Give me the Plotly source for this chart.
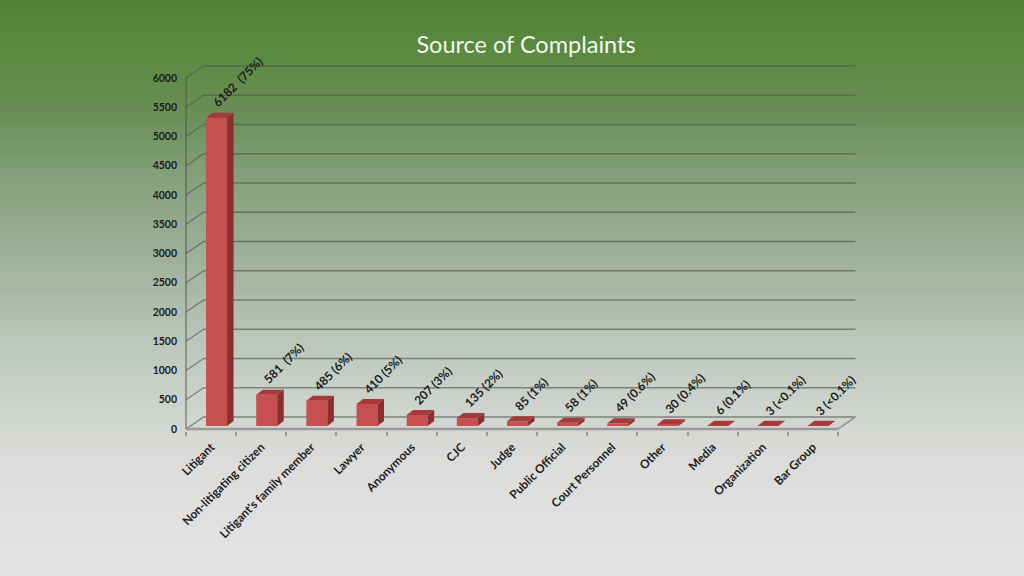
"""
Source of Complaints: bar chart with a drawn 3D look
"""

import plotly.graph_objects as go

# Datos
categories = ['Litigant', 'Non-litigating citizen', "Litigant's family member", 'Lawyer',
              'Anonymous', 'CJC', 'Judge', 'Public Official', 'Court Personnel', 'Other',
              'Media', 'Organization', 'Bar Group']
bar_heights = [5270, 535, 430, 378, 190, 135, 80, 55, 45, 28, 6, 3, 3]
point_labels = ['6182  (75%)', '581  (7%)', '485 (6%)', '410 (5%)', '207 (3%)', '135 (2%)',
                '85 (1%)', '58 (1%)', '49 (0.6%)', '30 (0.4%)', '6 (0.1%)', '3 (<0.1%)',
                '3 (<0.1%)']
y_ticks = list(range(0, 6001, 500))

# Fondo de la diapositiva (posicion desde abajo, color)
bg_stops = [
    [0.0, '#e5e5e5'],
    [0.1, '#e0e0e0'],
    [0.2, '#dcdcda'],
    [0.3, '#cdd3cc'],
    [0.4, '#bdc8bd'],
    [0.5, '#a9b8a6'],
    [0.6, '#96ab90'],
    [0.7, '#83a07a'],
    [0.8, '#6a8f58'],
    [0.9, '#5c8a42'],
    [1.0, '#518335'],
]

W, H = 1024, 576
X_PX = 50.15    # pixeles por categoria
Y_PX = 0.0585   # pixeles por unidad
WALL_DX = 17.5 / X_PX
WALL_DY = 12 / Y_PX
BAR_WIDTH = 21 / X_PX
BAR_SHIFT = 5.5 / X_PX
BAR_BASE = 3 / Y_PX
BAR_DX = 6.5 / X_PX
BAR_DY = 5 / Y_PX
GRID = 'rgba(80,88,78,0.65)'
FONT = 'Lato'

positions = list(range(len(categories)))
bar_x = [p + BAR_SHIFT for p in positions]
bar_tops = [BAR_BASE + h for h in bar_heights]

fig = go.Figure()

# Fondo a pagina completa
fig.add_trace(go.Heatmap(
    x=[0, 1], y=[0, 1], z=[[0, 0], [1, 1]],
    colorscale=bg_stops, zmin=0, zmax=1, zsmooth='best',
    showscale=False, hoverinfo='skip',
    xaxis='x', yaxis='y'
))

# Cara frontal
fig.add_trace(go.Bar(
    x=bar_x, y=bar_heights, base=BAR_BASE, width=BAR_WIDTH,
    marker=dict(color='#c64f50', line=dict(width=0)),
    showlegend=False, xaxis='x2', yaxis='y2'
))

# Caras lateral y superior
for x, top in zip(bar_x, bar_tops):
    right = x + BAR_WIDTH / 2
    left = x - BAR_WIDTH / 2
    fig.add_trace(go.Scatter(
        x=[right, right + BAR_DX, right + BAR_DX, right, right],
        y=[BAR_BASE, BAR_BASE + BAR_DY, top + BAR_DY, top, BAR_BASE],
        mode='lines', fill='toself', fillcolor='#8a2f30', line=dict(width=0),
        showlegend=False, hoverinfo='skip', xaxis='x2', yaxis='y2'
    ))
    fig.add_trace(go.Scatter(
        x=[left, left + BAR_DX, right + BAR_DX, right, left],
        y=[top, top + BAR_DY, top + BAR_DY, top, top],
        mode='lines', fill='toself', fillcolor='#a53a3a', line=dict(width=0),
        showlegend=False, hoverinfo='skip', xaxis='x2', yaxis='y2'
    ))

# Paredes y piso
x_left = positions[0] - 0.5
x_right = positions[-1] + 0.5
shapes = []
for v in y_ticks:
    shapes.append(dict(type='line', xref='x2', yref='y2', layer='below',
                       x0=x_left + WALL_DX, x1=x_right + WALL_DX,
                       y0=v + WALL_DY, y1=v + WALL_DY,
                       line=dict(color=GRID, width=1.5)))
    shapes.append(dict(type='line', xref='x2', yref='y2', layer='below',
                       x0=x_left, x1=x_left + WALL_DX, y0=v, y1=v + WALL_DY,
                       line=dict(color=GRID, width=1.3)))
shapes.append(dict(type='line', xref='x2', yref='y2', layer='below',
                   x0=x_left, x1=x_left, y0=0, y1=y_ticks[-1],
                   line=dict(color=GRID, width=1.5)))
shapes.append(dict(type='line', xref='x2', yref='y2', layer='below',
                   x0=x_left, x1=x_right, y0=0, y1=0,
                   line=dict(color='#9a9a9a', width=2.4)))
shapes.append(dict(type='line', xref='x2', yref='y2', layer='below',
                   x0=x_right, x1=x_right + WALL_DX, y0=0, y1=WALL_DY,
                   line=dict(color='#9a9a9a', width=1.8)))

# Etiquetas de valor
annotations = []
for x, top, label in zip(bar_x, bar_tops, point_labels):
    annotations.append(dict(
        x=x, y=top + BAR_DY, xref='x2', yref='y2', text=label, showarrow=False,
        textangle=-45, xanchor='left', yanchor='bottom', xshift=-9, yshift=0,
        font=dict(family=FONT, size=12, color='#1c1c1c', weight='bold')
    ))

fig.update_layout(
    width=W, height=H,
    margin=dict(l=0, r=0, t=0, b=0, autoexpand=False),
    paper_bgcolor='#e5e5e5',
    plot_bgcolor='rgba(0,0,0,0)',
    showlegend=False,
    shapes=shapes,
    annotations=annotations,
    title=dict(text='Source of Complaints', x=526 / W, y=1 - 45 / H, xref='paper',
               xanchor='center', yanchor='middle',
               font=dict(family=FONT, size=23.5, color='#f3f8ee')),
    xaxis=dict(domain=[0, 1], range=[0, 1], visible=False, fixedrange=True),
    yaxis=dict(domain=[0, 1], range=[0, 1], visible=False, fixedrange=True),
    xaxis2=dict(
        domain=[184 / W, 857 / W], anchor='y2',
        range=[x_left - 2 / X_PX, x_left + 671 / X_PX],
        tickmode='array', tickvals=positions, ticktext=categories, tickangle=-45,
        ticks='', showgrid=False, zeroline=False, showline=False,
        minor=dict(tickmode='array', tickvals=[p - 0.5 for p in positions] + [x_right],
                   ticks='outside', ticklen=4, tickcolor='#9a9a9a', tickwidth=1.5,
                   showgrid=False),
        ticklabelstandoff=6,
        tickfont=dict(family=FONT, size=11.8, color='#1c1c1c', weight='bold'),
    ),
    yaxis2=dict(
        domain=[1 - 431 / H, 1 - 65 / H], anchor='x2',
        range=[-2 / Y_PX, 364 / Y_PX],
        tickmode='array', tickvals=y_ticks,
        ticks='', showgrid=False, zeroline=False, showline=False,
        ticklabelstandoff=6,
        tickfont=dict(family=FONT, size=10.5, color='#1c1c1c', weight='bold'),
    ),
)

# Sin margen del navegador: la figura ocupa toda la ventana
fit_page = (
    "document.documentElement.style.overflow='hidden';"
    "document.body.style.margin='0';"
    "Plotly.relayout('{plot_id}', {width: 1024, height: 576});"
)
fig.write_html("out.html", post_script=fit_page, config=dict(displayModeBar=False))
